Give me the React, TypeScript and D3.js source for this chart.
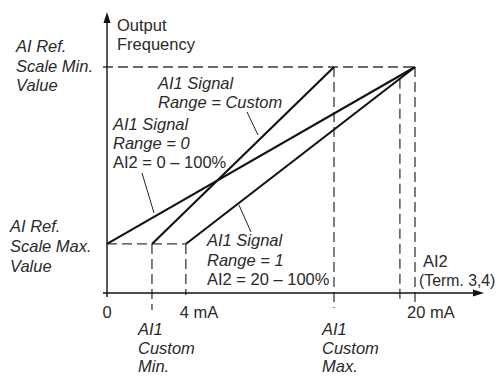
import React from "react";
import * as d3 from "d3";

// Schematic units: x in % of AI2 span (0 = 0 mA, 100 = 20 mA), y in % of output range
const lineNames = ["AI1 Range = 0", "AI1 Range = Custom", "AI1 Range = 1"];
const lineStartX = [0, 14.6, 25.6];
const lineEndX = [100, 73.7, 100];
const lowLevel = 21.7;
const highLevel = 100;
const customMinX = 14.6;
const fourMaX = 25.6;
const customMaxX = 73.7;
const innerMarkX = 95.1;
const twentyMaX = 100;
const xTickLabels = ["0", "4 mA", "20 mA"];
const xTickValues = [0, fourMaX, twentyMaX];

const W = 501;
const H = 377;

export default function App() {
  const x = d3.scaleLinear().domain([0, 100]).range([107, 415]);
  const y = d3.scaleLinear().domain([0, 100]).range([293, 67]);
  const line = d3
    .line<[number, number]>()
    .x((d) => x(d[0]))
    .y((d) => y(d[1]));

  const font = "'Liberation Sans', Arial, sans-serif";
  const dash = "10,5";
  const dashColor = "#3a3a3a";
  const fs = 16.5;

  const T = (props: any) => (
    <text fontFamily={font} fill="#2a2a2a" fontSize={fs} {...props} />
  );

  const ml = (lines: string[], x0: number, y0: number, dy: number, italic: boolean[] | boolean) =>
    lines.map((s, i) => {
      const it = Array.isArray(italic) ? italic[i] : italic;
      return (
        <T
          key={i}
          x={x0}
          y={y0 + i * dy}
          fontStyle={it ? "italic" : "normal"}
        >
          {s}
        </T>
      );
    });

  // y of the range=1 line at innerMarkX (where the inner dashed marker starts)
  const r1Slope = (highLevel - lowLevel) / (lineEndX[2] - lineStartX[2]);
  const innerTop = lowLevel + r1Slope * (innerMarkX - lineStartX[2]);

  const tickDx = [0, -6, -8];

  return (
    <svg
      width={W}
      height={H}
      style={{ position: "absolute", left: 0, top: 0, background: "#fff" }}
    >
      {/* dashed guides */}
      <g stroke={dashColor} strokeWidth={1.3} strokeDasharray={dash} fill="none">
        <line x1={x(0) - 4} x2={x(twentyMaX)} y1={y(highLevel)} y2={y(highLevel)} />
        <line x1={x(0)} x2={x(fourMaX)} y1={y(lowLevel)} y2={y(lowLevel)} />
        <line x1={x(customMinX)} x2={x(customMinX)} y1={y(lowLevel)} y2={y(0) + 17} />
        <line x1={x(fourMaX)} x2={x(fourMaX)} y1={y(lowLevel)} y2={y(0) + 2} />
        <line x1={x(customMaxX)} x2={x(customMaxX)} y1={y(highLevel)} y2={y(0) + 15} />
        <line x1={x(innerMarkX)} x2={x(innerMarkX)} y1={y(innerTop)} y2={y(0) + 9} />
        <line x1={x(twentyMaX)} x2={x(twentyMaX)} y1={y(highLevel)} y2={y(0) + 10} />
      </g>

      {/* axes */}
      <g stroke="#111" strokeWidth={1.4}>
        <line x1={x(0)} x2={x(0)} y1={y(0) + 4} y2={20} />
        <line x1={x(0) - 4} x2={475} y1={y(0)} y2={y(0)} />
      </g>
      <path d={`M${x(0)},12 L${x(0) - 3.5},23 L${x(0) + 3.5},23 Z`} fill="#111" />
      <path d={`M484,${y(0)} L473,${y(0) - 3.5} L473,${y(0) + 3.5} Z`} fill="#111" />

      {/* characteristic lines */}
      {lineNames.map((n, i) => (
        <path
          key={n}
          d={line([
            [lineStartX[i], lowLevel],
            [lineEndX[i], highLevel],
          ]) as string}
          stroke="#111"
          strokeWidth={2.1}
          fill="none"
        />
      ))}

      {/* leader lines */}
      <g stroke="#222" strokeWidth={1}>
        <line x1={247} y1={112} x2={258} y2={135} />
        <line x1={142} y1={173} x2={154} y2={213} />
        <line x1={239} y1={205} x2={251} y2={232} />
      </g>

      {/* axis titles */}
      {ml(["Output", "Frequency"], 117, 31, 18.5, false)}
      {ml(["AI Ref.", "Scale Min.", "Value"], 16, 52, 19.5, true)}
      {ml(["AI Ref.", "Scale Max.", "Value"], 10, 232, 20, true)}
      <T x={423} y={267}>AI2</T>
      <T x={419} y={285.5} fontSize={15.8}>(Term. 3,4)</T>

      {/* line annotations */}
      {ml(["AI1 Signal", "Range = Custom"], 158, 89, 19, true)}
      {ml(["AI1 Signal", "Range = 0", "AI2 = 0 – 100%"], 113, 130, 19, [true, true, false])}
      {ml(["AI1 Signal", "Range = 1", "AI2 = 20 – 100%"], 207, 246, 19.5, [true, true, false])}

      {/* x tick labels */}
      {xTickLabels.map((s, i) => (
        <T
          key={s}
          x={x(xTickValues[i]) + tickDx[i]}
          y={318}
          textAnchor={i === 0 ? "middle" : "start"}
        >
          {s}
        </T>
      ))}
      {ml(["AI1", "Custom", "Min."], 138, 335, 18.5, true)}
      {ml(["AI1", "Custom", "Max."], 322, 335, 18.5, true)}
    </svg>
  );
}
